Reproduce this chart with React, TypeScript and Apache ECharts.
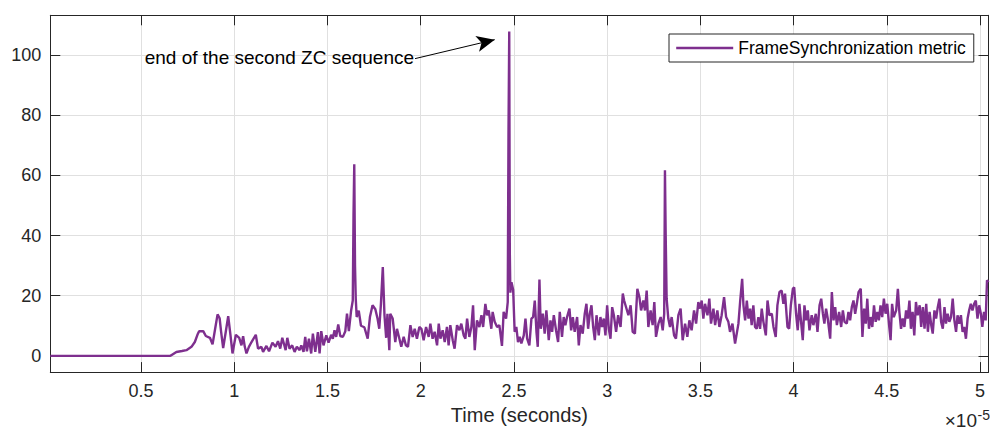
import React, { useEffect, useRef } from "react";
import * as echarts from "echarts";

// Time values are in units of 1e-5 seconds (axis shows "x10^-5").
const timeIdle = [0.014, 0.658];
const metricIdle = [0, 0];

const timeRamp = [
  0.665, 0.69, 0.72, 0.744, 0.771, 0.789, 0.803, 0.812, 0.834, 0.848, 0.87, 0.884, 0.898, 0.911, 0.922, 0.93,
  0.941, 0.955, 0.968, 0.98, 0.991, 1.009, 1.018, 1.027, 1.039, 1.048, 1.057, 1.066, 1.079, 1.093, 1.116, 1.128,
  1.146, 1.155, 1.173, 1.187, 1.205, 1.222, 1.235, 1.247, 1.258, 1.276, 1.285, 1.297, 1.311, 1.324, 1.336, 1.351,
  1.36, 1.372, 1.381, 1.39, 1.401, 1.413, 1.422, 1.435, 1.449, 1.458, 1.467, 1.479, 1.494, 1.506, 1.52, 1.529,
  1.538, 1.547, 1.558, 1.569, 1.583, 1.596, 1.605, 1.615, 1.627, 1.636, 1.64, 1.644, 1.648, 1.652, 1.657, 1.668,
  1.68, 1.698, 1.716, 1.728, 1.742, 1.757, 1.769, 1.778, 1.787, 1.797, 1.806, 1.815, 1.822, 1.832,
];
const metricRamp = [
  0.3, 1.3, 1.6, 1.9, 3, 4.6, 7, 8.2, 8.2, 6.6, 6, 3.8, 9, 13.8, 12.5, 8,
  2.6, 8, 13.2, 7, 0.8, 7, 6.5, 6, 3.5, 6.5, 3, 0.8, 3, 4.6, 7, 2.4,
  3, 1.3, 3.3, 1.5, 4.4, 3, 4.9, 2.4, 6, 1.9, 6, 2.4, 3.5, 1.3, 3, 1.9,
  3.5, 1.3, 6.3, 1.5, 5.7, 0.8, 7.4, 1.3, 7.9, 0.8, 8.2, 3.5, 6.8, 4.4, 7, 5.7,
  8.5, 6.3, 10.4, 6.6, 6.3, 8.2, 14, 8.2, 15, 18.4, 47, 63.7, 30, 19, 12.9, 15,
  10, 9.5, 5.7, 12.9, 16.8, 15.5, 12.3, 9, 17.3, 29.5, 13.5, 6, 14, 1.9,
];

const timeMid = [
  1.837, 1.85, 1.864, 1.873, 1.886, 1.896, 1.909, 1.921, 1.932, 1.945, 1.957, 1.968, 1.98, 1.993, 2.004, 2.016,
  2.029, 2.043, 2.052, 2.064, 2.075, 2.088, 2.097, 2.106, 2.118, 2.129, 2.141, 2.15, 2.159, 2.172, 2.182, 2.195,
  2.208, 2.218, 2.231, 2.24, 2.249, 2.261, 2.272, 2.281, 2.29, 2.302, 2.315, 2.326, 2.335, 2.347, 2.356, 2.365,
  2.379, 2.386, 2.397, 2.41, 2.422, 2.436, 2.445, 2.458, 2.467, 2.471, 2.475, 2.478, 2.481, 2.487, 2.496, 2.504,
  2.513, 2.522, 2.531, 2.54, 2.553, 2.562, 2.571, 2.583, 2.594, 2.603, 2.612, 2.621, 2.628, 2.637, 2.644, 2.655,
  2.665, 2.674, 2.687, 2.696, 2.705, 2.714, 2.726, 2.737, 2.746, 2.758, 2.767, 2.776, 2.785, 2.798, 2.807, 2.816,
  2.826, 2.839, 2.848, 2.857, 2.869, 2.88, 2.889, 2.898, 2.907, 2.916, 2.925, 2.934, 2.943, 2.955, 2.964, 2.973,
  2.982, 2.991, 3.0, 3.009, 3.018, 3.027, 3.036, 3.048, 3.059, 3.072, 3.084,
];
const metricMid = [
  14, 12.4, 4.6, 9, 5.7, 3, 6.3, 3.5, 3, 10.2, 6.3, 9, 5.7, 9.6, 9, 5.2,
  9.6, 6.3, 10.7, 5.7, 8, 3.5, 10.7, 5.7, 8.5, 4.6, 9.6, 3.5, 10.2, 5.2, 2.4, 10.2,
  8.5, 10.7, 6.8, 5.7, 12.4, 6.3, 9.6, 16.8, 1.9, 11.8, 9.6, 13.5, 9.6, 17.3, 13.5, 15.1,
  9, 14.6, 11.3, 9.6, 10.2, 3.3, 14.6, 12.4, 17.9, 74, 107.8, 34.5, 21, 24.5, 22, 8,
  9.6, 4.6, 6.3, 4.1, 6.8, 12.4, 5.7, 3.5, 12.4, 12.9, 18.4, 8, 3, 25.4, 9, 14,
  7.4, 15.1, 5.2, 11.8, 8, 13.5, 8.5, 4.6, 14.6, 6.3, 12.9, 10.2, 12.9, 15.7, 8.5, 12.9,
  8, 12.9, 3.5, 10.2, 7.4, 14, 17.3, 9, 14, 16.8, 9.6, 5.2, 13.5, 6.8, 12.9, 9.6,
  12.4, 6.8, 16.8, 9, 5.7, 16.2, 13.5, 8, 13.5, 9.6, 20.7,
];

const timeLate = [
  3.091, 3.114, 3.126, 3.137, 3.149, 3.162, 3.173, 3.182, 3.194, 3.203, 3.212, 3.221, 3.233, 3.244, 3.253, 3.262,
  3.275, 3.287, 3.298, 3.306, 3.31, 3.314, 3.319, 3.328, 3.337, 3.346, 3.359, 3.369, 3.382, 3.394, 3.405, 3.418,
  3.43, 3.441, 3.453, 3.466, 3.477, 3.489, 3.498, 3.507, 3.516, 3.525, 3.538, 3.548, 3.557, 3.57, 3.579, 3.591,
  3.602, 3.614, 3.627, 3.638, 3.65, 3.659, 3.672, 3.686, 3.695, 3.704, 3.713, 3.724, 3.731, 3.74, 3.749, 3.758,
  3.767, 3.775, 3.784, 3.793, 3.802, 3.811, 3.82, 3.829, 3.838, 3.851, 3.86, 3.87, 3.883, 3.892, 3.904, 3.913,
  3.924, 3.936, 3.945, 3.954, 3.967, 3.976, 3.985, 3.996, 4.003, 4.013, 4.022, 4.031, 4.04, 4.049, 4.058, 4.067,
  4.076, 4.085, 4.097, 4.106, 4.119, 4.128, 4.139, 4.148, 4.157, 4.165, 4.174, 4.183, 4.196, 4.205, 4.214, 4.223,
  4.232, 4.244, 4.255, 4.264, 4.273, 4.285, 4.294, 4.303, 4.312, 4.321, 4.33, 4.339, 4.348,
];
const metricLate = [
  18.4, 13.5, 16.8, 8, 7.4, 22.3, 19.5, 15.1, 18.4, 15.1, 21.7, 9.6, 15.1, 10.2, 17.9, 6.3,
  10.7, 12.9, 8.5, 14, 61.7, 40, 19, 12.4, 9.6, 12.9, 6.8, 5.7, 13.5, 15.7, 5.2, 10.7,
  6.3, 11.8, 8.5, 15.1, 10.7, 17.9, 15.7, 18.4, 12.4, 17.3, 13.5, 19, 10.7, 15.7, 10.2, 15.1,
  9.6, 13.5, 19.5, 12.9, 11.3, 8, 10.7, 4.1, 7.4, 10.7, 17.9, 25.6, 16.8, 11.8, 18.4, 12.4,
  15.7, 10.2, 16.8, 9.6, 9, 12.9, 9, 15.7, 11.3, 6.8, 18.4, 13.5, 14, 9.6, 6.3, 16.8,
  21.2, 21.7, 17.3, 20.7, 9.6, 9, 16.8, 22.3, 22.8, 14, 8.5, 17.3, 11.3, 5.2, 16.8, 11.8,
  15.1, 8.5, 13.5, 10.2, 14, 8, 16.8, 19, 14, 10.7, 15.7, 12.4, 5.7, 21.2, 11.8, 16.2,
  10.2, 14.6, 9.6, 15.1, 11.3, 10.7, 14.6, 11.8, 16.2, 18.4, 14, 17.3, 21.2,
];

const timeEnd = [
  4.36, 4.369, 4.378, 4.387, 4.395, 4.404, 4.413, 4.422, 4.431, 4.44, 4.449, 4.457, 4.466, 4.475, 4.484, 4.493,
  4.502, 4.512, 4.52, 4.528, 4.537, 4.55, 4.559, 4.567, 4.576, 4.585, 4.594, 4.603, 4.612, 4.621, 4.629, 4.638,
  4.647, 4.656, 4.665, 4.676, 4.684, 4.693, 4.702, 4.711, 4.72, 4.729, 4.738, 4.746, 4.755, 4.764, 4.773, 4.782,
  4.791, 4.8, 4.809, 4.817, 4.826, 4.835, 4.844, 4.853, 4.862, 4.871, 4.879, 4.888, 4.897, 4.906, 4.915, 4.924,
  4.933, 4.941, 4.95, 4.959, 4.968, 4.977, 4.986, 4.995, 5.004, 5.012, 5.021, 5.03, 5.037, 5.045,
];
const metricEnd = [
  22.3, 6.3, 15.7, 10.7, 19, 9, 12.9, 9.6, 16.8, 11.3, 14.6, 11.8, 16.8, 12.9, 19, 14,
  17.3, 10.2, 5.2, 17.3, 12.9, 15.1, 22.3, 14.6, 9, 12.4, 9.6, 15.1, 12.4, 18.4, 9, 14.6,
  6.8, 17.9, 13.5, 16.8, 9.6, 16.2, 9, 17.3, 8, 14.6, 10.2, 7.4, 15.1, 12.4, 16.2, 19,
  11.3, 9, 16.2, 10.7, 14, 11.3, 12.9, 19, 11.8, 8, 13.5, 10.7, 13.5, 8, 9.6, 5.7,
  12.4, 15.1, 17.3, 15.1, 17.3, 18.4, 12.4, 16.8, 14, 9.6, 14.6, 11.8, 25.1, 24.5,
];

const xTickValues = [0.5, 1, 1.5, 2, 2.5, 3, 3.5, 4, 4.5, 5];
const yTickValues = [0, 20, 40, 60, 80, 100];
const xRange = [0.014, 5.045];
const yRange = [-5.4, 113.2];

const seriesName = "FrameSynchronization metric";
const xAxisTitle = "Time (seconds)";
const annotationText = "end of the second ZC sequence";
const arrowFrom = [1.97, 98.8];
const arrowTo = [2.397, 105.1];

const FONT = '"Liberation Sans", Arial, Helvetica, sans-serif';
const AXIS_COLOR = "#262626";
const GRID_COLOR = "#e0e0e0";
const LINE_COLOR = "#7E2F8E";

function zip(t: number[], m: number[]): [number, number][] {
  return t.map((v, i) => [v, m[i]]);
}

export default function App() {
  const ref = useRef<HTMLDivElement>(null);

  useEffect(() => {
    document.body.style.margin = "0";
    if (!ref.current) return;
    const chart = echarts.init(ref.current, null, { renderer: "svg" });

    const points = [
      ...zip(timeIdle, metricIdle),
      ...zip(timeRamp, metricRamp),
      ...zip(timeMid, metricMid),
      ...zip(timeLate, metricLate),
      ...zip(timeEnd, metricEnd),
    ];

    const frameAxis = (position: string, ticks: number[], range: number[]) => ({
      type: "value",
      position,
      min: range[0],
      max: range[1],
      axisLine: { show: true, onZero: false, lineStyle: { color: AXIS_COLOR, width: 1 } },
      axisTick: { show: true, inside: true, length: 10, customValues: ticks, lineStyle: { color: AXIS_COLOR, width: 1 } },
      axisLabel: { show: false, customValues: ticks },
      splitLine: { show: false },
    });

    chart.setOption({
      animation: false,
      grid: { left: 50.3, right: 1.5, top: 15.3, bottom: 56.3, containLabel: false },
      legend: {
        show: true,
        left: 669,
        top: 34,
        itemWidth: 57,
        itemHeight: 17,
        padding: [5, 8, 5, 6],
        borderColor: AXIS_COLOR,
        borderWidth: 1,
        backgroundColor: "#ffffff",
        itemStyle: { opacity: 0 },
        lineStyle: { width: 2.4 },
        textStyle: { fontSize: 17.5, color: "#000", fontFamily: FONT },
        data: [seriesName],
      },
      xAxis: [
        {
          type: "value",
          position: "bottom",
          min: xRange[0],
          max: xRange[1],
          name: xAxisTitle,
          nameLocation: "middle",
          nameGap: 27,
          nameTextStyle: { fontSize: 20, color: AXIS_COLOR, fontFamily: FONT },
          axisLine: { show: true, onZero: false, lineStyle: { color: AXIS_COLOR, width: 1 } },
          axisTick: { show: true, inside: true, length: 10, customValues: xTickValues, lineStyle: { color: AXIS_COLOR, width: 1 } },
          axisLabel: {
            show: true,
            customValues: xTickValues,
            margin: 10,
            fontSize: 18,
            color: AXIS_COLOR,
            fontFamily: FONT,
            formatter: (v: number) => String(v),
          },
          splitLine: { show: true, lineStyle: { color: GRID_COLOR, width: 1 } },
        },
        frameAxis("top", xTickValues, xRange),
      ],
      yAxis: [
        {
          type: "value",
          position: "left",
          min: yRange[0],
          max: yRange[1],
          axisLine: { show: true, onZero: false, lineStyle: { color: AXIS_COLOR, width: 1 } },
          axisTick: { show: true, inside: true, length: 10, customValues: yTickValues, lineStyle: { color: AXIS_COLOR, width: 1 } },
          axisLabel: {
            show: true,
            customValues: yTickValues,
            margin: 9,
            fontSize: 18,
            color: AXIS_COLOR,
            fontFamily: FONT,
            formatter: (v: number) => String(v),
          },
          splitLine: { show: true, lineStyle: { color: GRID_COLOR, width: 1 } },
        },
        frameAxis("right", yTickValues, yRange),
      ],
      series: [
        {
          name: seriesName,
          type: "line",
          xAxisIndex: 0,
          yAxisIndex: 0,
          data: points,
          symbol: "none",
          showSymbol: false,
          color: LINE_COLOR,
          lineStyle: { color: LINE_COLOR, width: 2.4 },
          emphasis: { disabled: true },
          silent: true,
          markLine: {
            silent: true,
            animation: false,
            label: { show: false },
            lineStyle: { color: "#000", width: 1, type: "solid" },
            emphasis: { disabled: true },
            data: [
              [
                { coord: arrowFrom, symbol: "none" },
                { coord: arrowTo, symbol: "arrow", symbolSize: [12, 18] },
              ],
            ],
          },
        },
      ],
    });

    const p = chart.convertToPixel({ xAxisIndex: 0, yAxisIndex: 0 }, arrowFrom) as number[];
    chart.setOption({
      graphic: [
        {
          type: "text",
          x: p[0] - 1,
          y: p[1] - 1.5,
          silent: true,
          style: {
            text: annotationText,
            fontSize: 19,
            fontFamily: FONT,
            fill: "#000",
            align: "right",
            verticalAlign: "middle",
          },
        },
        {
          type: "text",
          x: 977,
          y: 420.5,
          silent: true,
          style: {
            text: "×10",
            fontSize: 19,
            fontFamily: FONT,
            fill: AXIS_COLOR,
            align: "right",
            verticalAlign: "middle",
          },
        },
        {
          type: "text",
          x: 977.5,
          y: 414.5,
          silent: true,
          style: {
            text: "-5",
            fontSize: 14,
            fontFamily: FONT,
            fill: AXIS_COLOR,
            align: "left",
            verticalAlign: "middle",
          },
        },
      ],
    });

    return () => {
      chart.dispose();
    };
  }, []);

  return <div ref={ref} style={{ width: 990, height: 430 }} />;
}
